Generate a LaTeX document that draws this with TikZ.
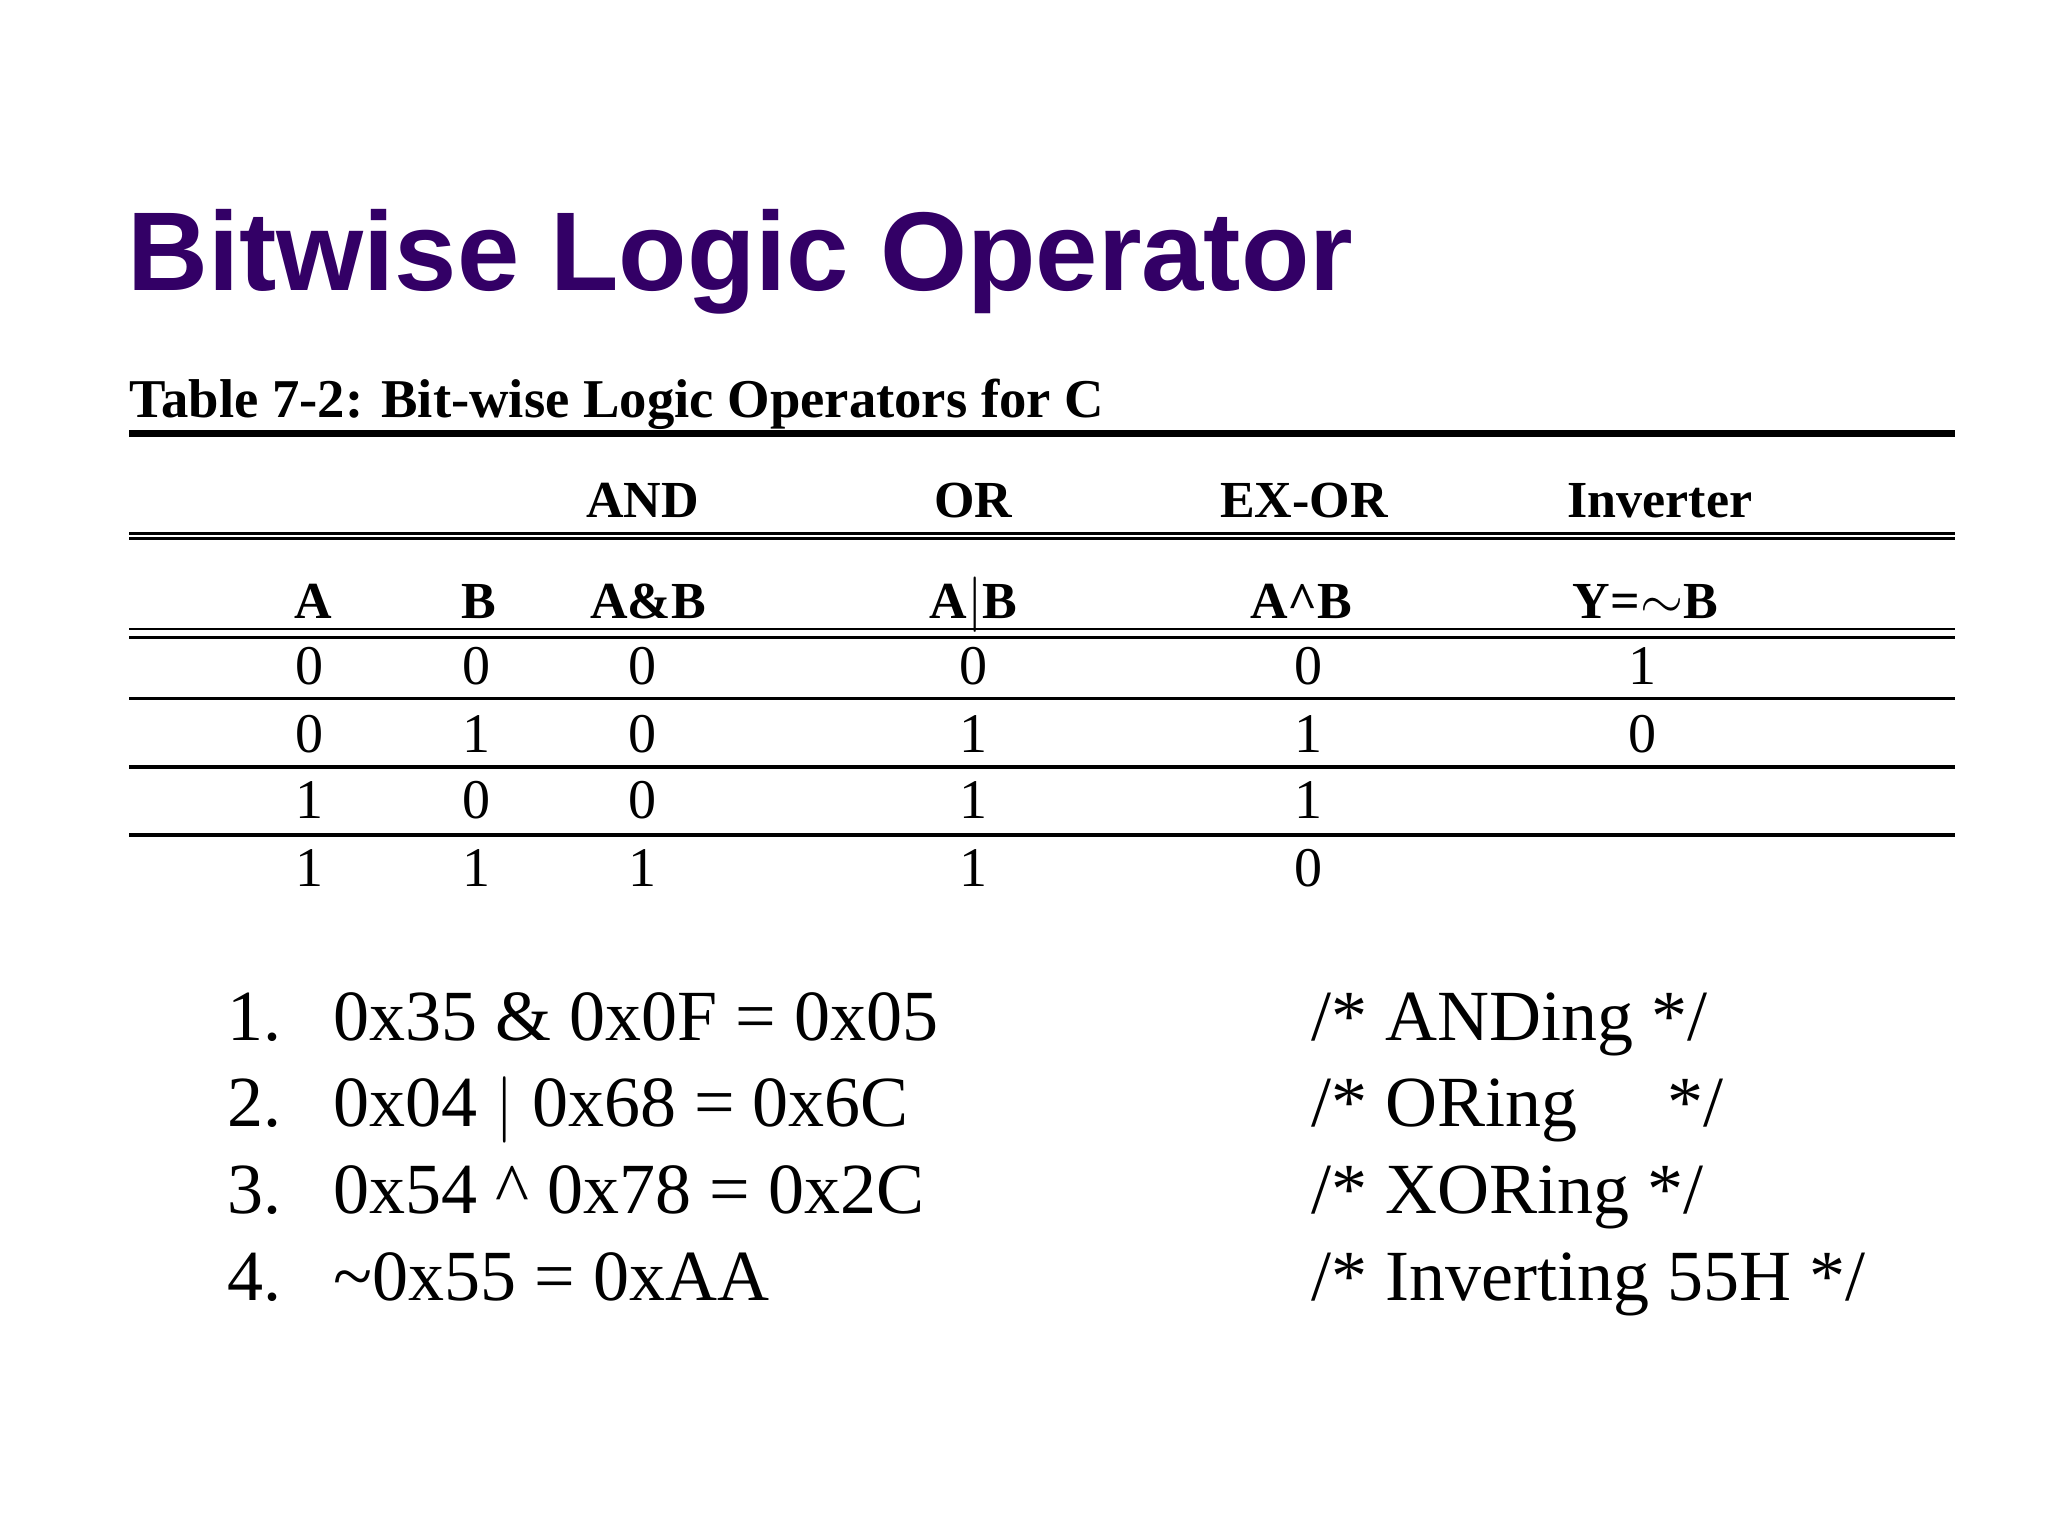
\documentclass[tikz,border=0pt]{standalone}
\usepackage{fontspec}
\setmainfont{Liberation Serif}
\newfontfamily\titlefont{Liberation Sans}
\definecolor{titlepurple}{HTML}{330066}
\begin{document}
\begin{tikzpicture}[x=0.5pt,y=-0.5pt,
  hd/.style={font=\fontsize{19.5}{22}\selectfont\bfseries,inner sep=0pt,anchor=base},
  num/.style={font=\fontsize{21}{23}\selectfont,inner sep=0pt,anchor=base},
  code/.style={font=\fontsize{27}{30}\selectfont,inner sep=0pt,anchor=base west},
  rule/.style={line width=1.2pt}]
\useasboundingbox (0,0) rectangle (1536,1152);
\node[font=\titlefont\fontsize{42}{46}\selectfont\bfseries,text=titlepurple,anchor=base west,inner sep=0pt] (title) at (95,218) {Bitwise Logic Operator};
\node[font=\fontsize{20.5}{23}\selectfont\bfseries,anchor=base west,inner sep=0pt] (cap) at (97,313) {Table 7-2: Bit-wise Logic Operators for C};
\coordinate (l1a) at (97,325); \coordinate (l1b) at (1466,325);
\draw[line width=2.4pt] (l1a) -- (l1b);
\coordinate (l2a) at (97,400); \coordinate (l2b) at (1466,400);
\coordinate (l3a) at (97,404); \coordinate (l3b) at (1466,404);
\draw[rule] (l2a) -- (l2b); \draw[rule] (l3a) -- (l3b);
\coordinate (l4a) at (97,472); \coordinate (l4b) at (1466,472);
\coordinate (l5a) at (97,478); \coordinate (l5b) at (1466,478);
\draw[line width=0.8pt] (l4a) -- (l4b); \draw[rule] (l5a) -- (l5b);
\coordinate (l6a) at (97,524); \coordinate (l6b) at (1466,524);
\coordinate (l7a) at (97,575); \coordinate (l7b) at (1466,575);
\coordinate (l8a) at (97,626); \coordinate (l8b) at (1466,626);
\draw[rule] (l6a) -- (l6b); \draw[line width=1.6pt] (l7a) -- (l7b); \draw[line width=1.6pt] (l8a) -- (l8b);
\node[hd] (hand) at (482,388) {AND};
\node[hd] (hor) at (730,388) {OR};
\node[hd] (hxor) at (978,388) {EX-OR};
\node[hd] (hinv) at (1245,388) {Inverter};
\node[hd] (ha) at (235,464) {A};
\node[hd] (hb) at (359,464) {B};
\node[hd] (hab) at (486,464) {A\&B};
\node[hd] (hob) at (730,464) {A$|$B};
\node[hd] (hxb) at (976,464) {A\^{}B};
\node[hd] (hy) at (1234,464) {Y=$\sim$B};
\foreach \r/\y/\a/\b/\c/\d/\e/\f in {1/513/0/0/0/0/0/1, 2/564/0/1/0/1/1/0, 3/614/1/0/0/1/1/, 4/665/1/1/1/1/0/}{
  \node[num] (r\r a) at (232,\y) {\a};
  \node[num] (r\r b) at (357,\y) {\b};
  \node[num] (r\r c) at (482,\y) {\c};
  \node[num] (r\r d) at (730,\y) {\d};
  \node[num] (r\r e) at (981,\y) {\e};
  \node[num] (r\r f) at (1232,\y) {\f};
}
\node[code] (n1) at (170,780) {1.};
\node[code] (e1) at (250,780) {0x35 \& 0x0F = 0x05};
\node[code] (c1) at (983,780) {/* ANDing */};
\node[code] (n2) at (170,845) {2.};
\node[code] (e2) at (250,845) {0x04 $|$ 0x68 = 0x6C};
\node[code] (c2) at (983,845) {/* ORing \quad */};
\node[code] (n3) at (170,910) {3.};
\node[code] (e3) at (250,910) {0x54 \^{} 0x78 = 0x2C};
\node[code] (c3) at (983,910) {/* XORing */};
\node[code] (n4) at (170,975) {4.};
\node[code] (e4) at (250,975) {\char"7E 0x55 = 0xAA};
\node[code] (c4) at (983,975) {/* Inverting 55H */};
\end{tikzpicture}
\end{document}
